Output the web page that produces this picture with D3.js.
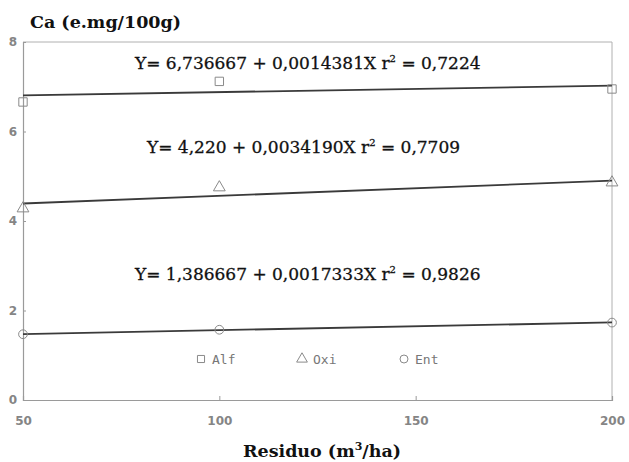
<!DOCTYPE html>
<html>
<head>
<meta charset="utf-8">
<script src="https://cdn.jsdelivr.net/npm/d3@7"></script>
<style>
  body { margin: 0; background: #fff; }
  svg { display: block; }
</style>
</head>
<body>
<svg id="chart" width="629" height="462"></svg>
<script>
(function () {
    'use strict'

    // data
    var doses = [50, 100, 200]
    var alf = [6.66, 7.12, 6.95]
    var oxi = [4.28, 4.75, 4.86]
    var ent = [1.47, 1.57, 1.73]
    var xTicks = [50, 100, 150, 200]
    var yTicks = [0, 2, 4, 6, 8]
    // regression: a, b, and the printed a, b, r2
    var fitAlf = [6.736667, 0.0014381, '6,736667', '0,0014381', '0,7224']
    var fitOxi = [4.220, 0.0034190, '4,220', '0,0034190', '0,7709']
    var fitEnt = [1.386667, 0.0017333, '1,386667', '0,0017333', '0,9826']

    var svg = d3.select('#chart')
    var x = d3.scaleLinear().domain([50, 200]).range([23, 612])
    var y = d3.scaleLinear().domain([0, 8]).range([400, 42])
    var grey = '#8a8a8a'

    // frame
    svg.append('path')
        .attr('d', 'M' + x(50) + ',' + y(8) + 'H' + x(200) + 'V' + y(0))
        .attr('fill', 'none').attr('stroke', '#b0b0b0').attr('stroke-width', 1)

    // axes
    var xAxis = svg.append('g').attr('transform', 'translate(0,' + y(0) + ')')
        .call(d3.axisBottom(x).tickValues(xTicks).tickSize(-4).tickPadding(16))
    var yAxis = svg.append('g').attr('transform', 'translate(' + x(50) + ',0)')
        .call(d3.axisLeft(y).tickValues(yTicks).tickSize(-3).tickPadding(6))
    ;[xAxis, yAxis].forEach(function (g) {
        g.select('.domain').attr('stroke', '#9a9a9a').attr('stroke-width', 1.2)
        g.selectAll('line').attr('stroke', '#9a9a9a')
        g.selectAll('text').attr('fill', '#858585')
            .style('font-family', 'DejaVu Sans, sans-serif')
            .style('font-size', '12px').style('font-weight', 'bold')
    })

    // regression lines
    ;[fitAlf, fitOxi, fitEnt].forEach(function (f) {
        svg.append('line')
            .attr('x1', x(50)).attr('y1', y(f[0] + f[1] * 50))
            .attr('x2', x(200)).attr('y2', y(f[0] + f[1] * 200))
            .attr('stroke', '#3a3a3a').attr('stroke-width', 1.8)
    })

    // markers
    var sym = { sq: d3.symbolSquare, tri: d3.symbolTriangle, ci: d3.symbolCircle }
    var series = [[alf, 'sq', 70], [oxi, 'tri', 60], [ent, 'ci', 60]]
    series.forEach(function (s) {
        svg.append('g').selectAll('path')
            .data(s[0]).enter().append('path')
            .attr('d', d3.symbol().type(sym[s[1]]).size(s[2]))
            .attr('transform', function (d, i) {
                return 'translate(' + x(doses[i]) + ',' + y(d) + ')'
            })
            .attr('fill', 'none').attr('stroke', grey).attr('stroke-width', 1)
    })

    // equations
    var eqs = [[fitAlf, 135, 69, 347], [fitOxi, 147, 153, 305], [fitEnt, 135, 280, 347]]
    eqs.forEach(function (e) {
        var t = svg.append('text').attr('x', e[1]).attr('y', e[2])
            .attr('fill', '#111').attr('stroke', '#111').attr('stroke-width', 0.3)
            .style('font-family', 'DejaVu Serif, serif').style('font-size', '17px')
        t.append('tspan').text('Y= ' + e[0][2] + ' + ' + e[0][3] + 'X r')
        t.append('tspan').text('2').attr('dy', -7).style('font-size', '10px')
        t.append('tspan').text(' = ' + e[0][4]).attr('dy', 7)
    })

    // legend
    var legend = [['Alf', 'sq', 197], ['Oxi', 'tri', 298], ['Ent', 'ci', 400]]
    legend.forEach(function (l) {
        svg.append('path')
            .attr('d', d3.symbol().type(sym[l[1]]).size(50))
            .attr('transform', 'translate(' + (l[2] + 4) + ',359)')
            .attr('fill', 'none').attr('stroke', grey).attr('stroke-width', 1)
        svg.append('text').attr('x', l[2] + 15).attr('y', 364)
            .attr('fill', '#777')
            .style('font-family', 'DejaVu Sans Mono, monospace').style('font-size', '13px')
            .text(l[0])
    })

    // axis titles
    svg.append('text').attr('x', 30).attr('y', 28)
        .attr('fill', '#111').style('font-family', 'DejaVu Serif, serif')
        .style('font-size', '17.5px').style('font-weight', 'bold')
        .text('Ca  (e.mg/100g)')

    var xt = svg.append('text').attr('x', 322).attr('y', 457).attr('text-anchor', 'middle')
        .attr('fill', '#111').style('font-family', 'DejaVu Serif, serif')
        .style('font-size', '17.5px').style('font-weight', 'bold')
    xt.append('tspan').text('Residuo  (m')
    xt.append('tspan').text('3').attr('dy', -7).style('font-size', '11px')
    xt.append('tspan').text('/ha)').attr('dy', 7)
})()
</script>
</body>
</html>
